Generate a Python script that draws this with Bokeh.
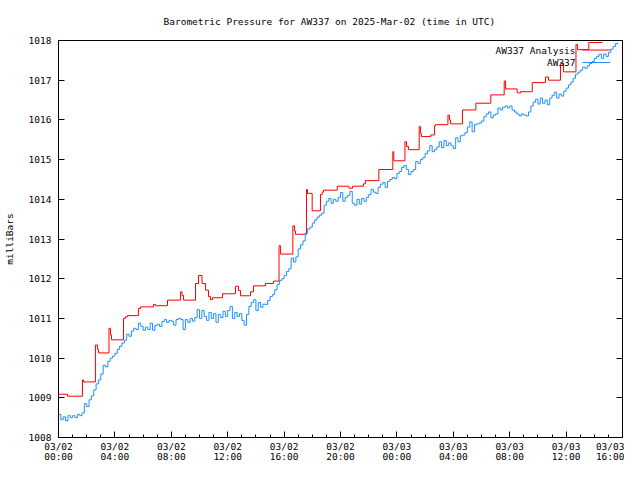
import pandas as pd
from bokeh.plotting import figure
from bokeh.models import Range1d, FixedTicker, DatetimeTickFormatter, LinearAxis, Label
from bokeh.embed import file_html
from bokeh.resources import INLINE

# ---------------- data ----------------
title_text = "Barometric Pressure for AW337 on 2025-Mar-02 (time in UTC)"
y_label = "milliBars"
series_names = ["AW337 Analysis", "AW337"]
start_time = "2025-03-02 00:00"
end_time = "2025-03-03 16:00"
y_ticks = [1008, 1009, 1010, 1011, 1012, 1013, 1014, 1015, 1016, 1017, 1018]
x_major_hours = [0, 4, 8, 12, 16, 20, 24, 28, 32, 36, 40]

# AW337 observations, one every 10 minutes from start_time
obs_step_minutes = 10
obs_values = [
    1008.58, 1008.45, 1008.52, 1008.42, 1008.55, 1008.50,
    1008.55, 1008.50, 1008.58, 1008.55, 1008.62, 1008.85,
    1008.78, 1008.95, 1009.05, 1009.20, 1009.35, 1009.45,
    1009.60, 1009.82, 1009.78, 1009.92, 1010.00, 1010.05,
    1010.12, 1010.22, 1010.30, 1010.38, 1010.45, 1010.60,
    1010.55, 1010.68, 1010.75, 1010.72, 1010.88, 1010.80,
    1010.70, 1010.78, 1010.72, 1010.88, 1010.70, 1010.82,
    1010.85, 1010.80, 1010.92, 1010.97, 1010.90, 1010.95,
    1010.93, 1010.83, 1010.97, 1011.00, 1010.97, 1010.72,
    1010.97, 1010.90, 1011.00, 1010.93, 1011.02, 1011.22,
    1011.00, 1011.20, 1011.05, 1010.95, 1011.15, 1011.00,
    1011.12, 1010.90, 1011.10, 1011.02, 1011.18, 1011.05,
    1011.20, 1011.30, 1011.00, 1011.15, 1011.05, 1011.12,
    1010.95, 1010.83, 1011.10, 1011.30, 1011.40, 1011.47,
    1011.20, 1011.40, 1011.28, 1011.36, 1011.35, 1011.45,
    1011.55, 1011.60, 1011.72, 1011.85, 1011.95, 1012.00,
    1012.08, 1012.18, 1012.25, 1012.52, 1012.42, 1012.55,
    1012.75, 1012.85, 1012.95, 1013.15, 1013.25, 1013.30,
    1013.40, 1013.48, 1013.55, 1013.60, 1013.65, 1013.85,
    1013.95, 1014.02, 1013.90, 1014.00, 1013.95, 1014.05,
    1014.17, 1013.95, 1014.05, 1014.10, 1014.20, 1013.90,
    1013.85, 1014.00, 1013.88, 1014.02, 1013.95, 1014.05,
    1014.12, 1014.25, 1014.18, 1014.15, 1014.30, 1014.38,
    1014.42, 1014.30, 1014.45, 1014.50, 1014.55, 1014.52,
    1014.65, 1014.70, 1014.80, 1014.85, 1014.75, 1014.62,
    1014.70, 1014.75, 1014.95, 1014.90, 1015.00, 1015.05,
    1015.15, 1015.22, 1015.35, 1015.20, 1015.25, 1015.32,
    1015.45, 1015.30, 1015.48, 1015.35, 1015.42, 1015.35,
    1015.28, 1015.55, 1015.45, 1015.60, 1015.62, 1015.68,
    1015.82, 1015.95, 1015.70, 1015.88, 1015.90, 1015.92,
    1015.97, 1016.08, 1016.15, 1016.20, 1016.05, 1016.12,
    1016.15, 1016.30, 1016.25, 1016.32, 1016.35, 1016.30,
    1016.35, 1016.25, 1016.20, 1016.15, 1016.10, 1016.15,
    1016.12, 1016.10, 1016.20, 1016.35, 1016.45, 1016.52,
    1016.40, 1016.55, 1016.42, 1016.50, 1016.38, 1016.55,
    1016.62, 1016.70, 1016.55, 1016.65, 1016.60, 1016.72,
    1016.80, 1016.88, 1016.95, 1017.05, 1017.15, 1017.20,
    1017.25, 1017.33, 1017.30, 1017.36, 1017.42, 1017.47,
    1017.55, 1017.60, 1017.65, 1017.55, 1017.66, 1017.60,
    1017.70, 1017.78, 1017.85, 1017.92, 1017.95,
]

# AW337 Analysis: step changes (hours after start_time, value)
analysis_hours = [
    0.00, 0.64, 1.70, 1.77, 2.62, 2.77, 2.84, 3.58, 3.69, 3.76,
    4.61, 4.75, 4.89, 5.67, 5.82, 6.74, 6.88, 7.73, 8.65, 8.76,
    8.87, 9.72, 9.93, 10.18, 10.43, 10.64, 10.78, 10.92, 11.63, 12.55,
    12.77, 12.91, 13.62, 13.83, 14.68, 15.25, 15.64, 15.74, 16.62, 16.74,
    16.81, 17.59, 17.66, 17.99, 18.58, 18.70, 18.79, 19.77, 20.60, 20.85,
    21.63, 21.77, 22.72, 23.71, 23.78, 24.57, 24.68, 24.82, 25.58, 25.67,
    25.74, 26.40, 26.67, 26.74, 27.62, 27.73, 27.80, 28.65, 29.60, 30.66,
    31.61, 31.70, 32.53, 32.77, 33.60, 34.54, 34.75, 35.60, 35.82, 36.70,
    36.81, 37.61, 38.58,
]
analysis_values = [
    1009.09, 1009.04, 1009.45, 1009.40, 1010.33, 1010.22, 1010.13, 1010.75, 1010.58, 1010.46,
    1011.00, 1011.04, 1011.07, 1011.25, 1011.29, 1011.35, 1011.32, 1011.46, 1011.67, 1011.58,
    1011.46, 1011.88, 1012.08, 1011.88, 1011.71, 1011.55, 1011.47, 1011.52, 1011.62, 1011.81,
    1011.70, 1011.57, 1011.67, 1011.82, 1011.88, 1011.94, 1012.83, 1012.62, 1013.33, 1013.20,
    1013.12, 1014.25, 1014.15, 1013.71, 1014.12, 1014.18, 1014.23, 1014.33, 1014.28, 1014.33,
    1014.39, 1014.47, 1014.75, 1015.20, 1014.97, 1015.45, 1015.33, 1015.25, 1015.83, 1015.65,
    1015.58, 1015.62, 1015.85, 1015.88, 1016.12, 1016.00, 1015.90, 1016.25, 1016.42, 1016.63,
    1016.98, 1016.78, 1016.68, 1016.71, 1016.94, 1017.08, 1017.00, 1017.42, 1017.21, 1017.90,
    1017.77, 1017.95, 1017.95,
]

# ---------------- styling ----------------
FONT = "DejaVu Sans Mono"
FSIZE = "9.5px"
RED = "#ff0000"
BLUE = "#1e90ff"

t0 = pd.Timestamp(start_time)
t1 = pd.Timestamp(end_time)


def ms(ts):
    return ts.value / 1e6


def at_hours(h):
    return t0 + pd.Timedelta(hours=h)


obs_times = [t0 + pd.Timedelta(minutes=obs_step_minutes * i) for i in range(len(obs_values))]
an_times = [at_hours(h) for h in analysis_hours]

p = figure(width=624, height=464, x_axis_type="datetime",
           output_backend="svg", toolbar_location=None,
           x_range=Range1d(t0, t1), y_range=Range1d(y_ticks[0], y_ticks[-1]),
           min_border_left=58, min_border_right=2,
           min_border_top=40, min_border_bottom=24)
p.grid.visible = False
p.outline_line_color = "black"
p.outline_line_alpha = 1.0
p.outline_line_width = 1
p.background_fill_color = "white"
p.border_fill_color = "white"

p.title.text = title_text
p.title.align = "left"
p.title.offset = 105
p.title.text_font = FONT
p.title.text_font_size = FSIZE
p.title.text_font_style = "normal"
p.title.text_color = "black"
p.title.standoff = 27

# x axis
fmt = "%m/%d\n%H:%M"
p.xaxis.ticker = FixedTicker(ticks=[ms(at_hours(h)) for h in x_major_hours],
                             minor_ticks=[ms(at_hours(h)) for h in range(x_major_hours[0], x_major_hours[-1] + 1)])
p.xaxis.formatter = DatetimeTickFormatter(
    microseconds=fmt, milliseconds=fmt, seconds=fmt, minsec=fmt, minutes=fmt,
    hourmin=fmt, hours=fmt, days=fmt, months=fmt, years=fmt)

# y axis
p.yaxis.ticker = FixedTicker(ticks=y_ticks, minor_ticks=[])
p.yaxis.axis_label = y_label

right_axis = LinearAxis(ticker=FixedTicker(ticks=y_ticks, minor_ticks=[]))
right_axis.major_label_overrides = {t: "" for t in y_ticks}
p.add_layout(right_axis, "right")

for ax in p.xaxis + p.yaxis:
    ax.axis_line_color = "black"
    ax.major_tick_line_color = "black"
    ax.minor_tick_line_color = "black"
    ax.major_tick_in = 6
    ax.major_tick_out = 0
    ax.minor_tick_in = 3
    ax.minor_tick_out = 0
    ax.major_label_text_font = FONT
    ax.major_label_text_font_size = FSIZE
    ax.major_label_text_color = "black"
    ax.axis_label_text_font = FONT
    ax.axis_label_text_font_size = FSIZE
    ax.axis_label_text_font_style = "normal"
    ax.axis_label_text_color = "black"
p.xaxis.major_label_text_line_height = 0.95
p.xaxis.major_label_standoff = 3
p.yaxis[0].major_label_standoff = 7
p.yaxis[0].axis_label_standoff = 11
right_axis.major_label_standoff = 0

# data
p.step(an_times + [an_times[-1]], analysis_values + [analysis_values[-1]],
       mode="after", line_color=RED, line_width=1)
p.step(obs_times, obs_values, mode="after", line_color=BLUE, line_width=1)

# key (text to the left of the sample line)
key_text_x = ms(at_hours(36.67))
key_line_x = [at_hours(37.16), at_hours(39.15)]
key_y = [1017.76, 1017.445]
for name, yy, col in zip(series_names, key_y, [RED, BLUE]):
    p.add_layout(Label(x=key_text_x, y=yy, text=name, text_align="right",
                       text_baseline="middle", text_font=FONT, text_font_size=FSIZE,
                       text_color="black"))
    p.line(key_line_x, [yy, yy], line_color=col, line_width=1)

open("out.html", "w").write(file_html(p, INLINE))
